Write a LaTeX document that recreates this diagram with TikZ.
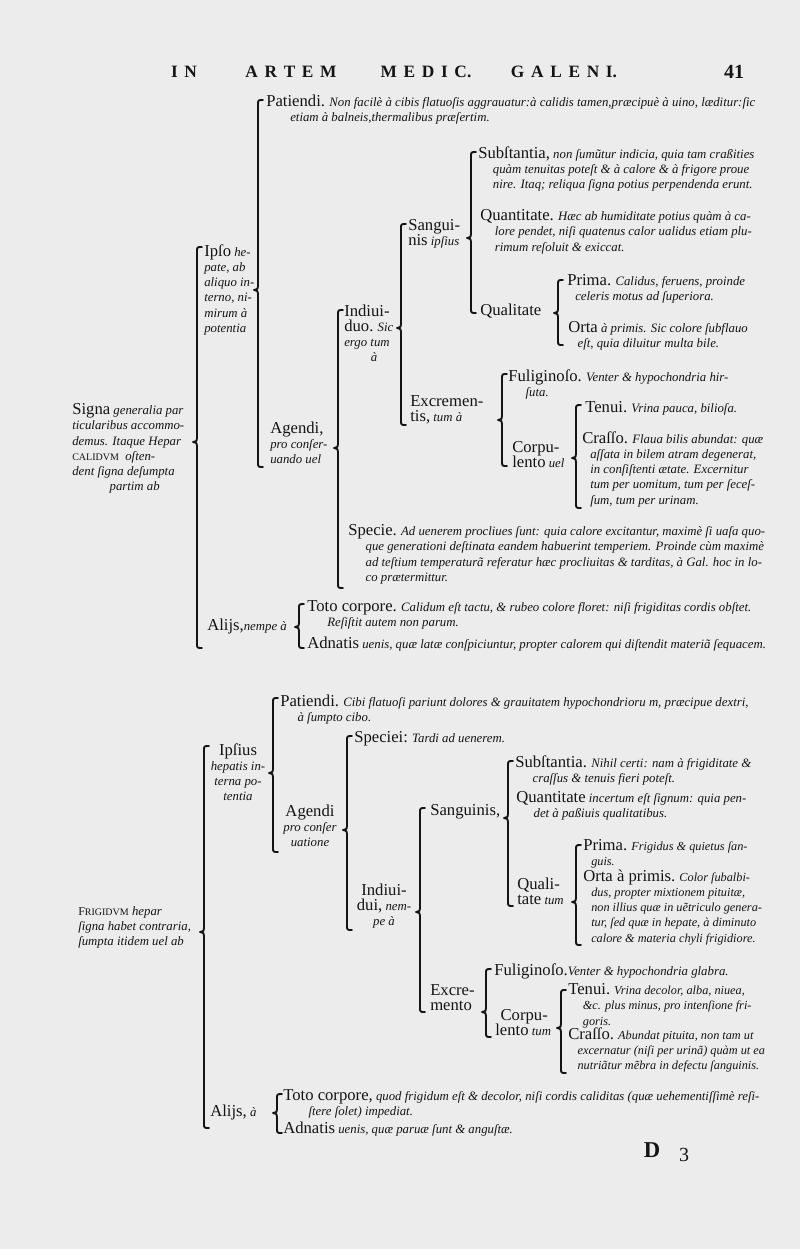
\documentclass[tikz,border=0pt]{standalone}
\usepackage{fontspec}
\setmainfont{Liberation Serif}
\definecolor{mainBlack}{gray}{0.08}
\definecolor{paperGray}{gray}{0.925}
\newcommand{\hw}[1]{{\fontsize{12.5}{13}\selectfont\upshape #1}}
\newcommand{\scp}[1]{{\fontsize{7.5}{9}\selectfont\upshape #1}}
\newcommand{\lsp}{\kern5pt}
% 括弧: x, 上端, 先端, 下端
\newcommand{\brk}[4]{%
  \draw[brk] (#1+5,#2) .. controls (#1,#2) .. (#1,#2+5)
    -- (#1,#3-4) .. controls (#1,#3-1) .. (#1-4,#3)
    .. controls (#1,#3+1) .. (#1,#3+4)
    -- (#1,#4-5) .. controls (#1,#4) .. (#1+5,#4);}

\begin{document}
\begin{tikzpicture}[x=0.75pt, y=-0.75pt,
    txt/.style={anchor=north west, inner sep=0pt, yshift=6.5pt, align=left,
      text=mainBlack, font=\fontsize{9.6}{11.4}\selectfont\itshape},
    narrow/.style={txt, font=\fontsize{9.2}{11.4}\selectfont\itshape},
    mid/.style={txt, anchor=north, align=center},
    head/.style={inner sep=0pt, text=mainBlack, font=\fontsize{13}{13}\selectfont\bfseries},
    brk/.style={draw=mainBlack, line width=1.4pt, line cap=round, line join=round}]
  \fill[paperGray] (0,0) rectangle (800,1249);

  % 見出し
  \node[head] (hIn) at (184,72) {I\lsp N};
  \node[head] (hArtem) at (291,72) {A\lsp R\lsp T\lsp E\lsp M};
  \node[head] (hMedic) at (426,72) {M\lsp E\lsp D\lsp I\lsp C.};
  \node[head] (hGaleni) at (564,72) {G\lsp A\lsp L\lsp E\lsp N\lsp I.};
  \node[head, font=\fontsize{15}{15}\selectfont\bfseries] (hPage) at (734,72) {41};

  % 上の表 (CALIDVM)
  \node[txt] (calRoot) at (72,412) {\hw{Signa} generalia par\\ticularibus accommo-\\demus. Itaque Hepar\\\scp{CALIDVM} \ oſten-\\dent ſigna deſumpta\\\hspace*{28pt}partim ab};
  \node[txt] (calIpso) at (204,253) {\hw{Ipſo} he-\\pate, ab\\aliquo in-\\terno, ni-\\mirum à\\potentia};
  \node[txt] (calPat) at (266,103) {\hw{Patiendi.} Non facilè à cibis flatuoſis aggrauatur:à calidis tamen,præcipuè à uino, læditur:ſic\\\hspace*{18pt}etiam à balneis,thermalibus præſertim.};
  \node[txt] (calAgendi) at (270,430) {\hw{Agendi,}\\pro conſer-\\uando uel};
  \node[txt] (calIndiu) at (344,313) {\hw{Indiui-}\\\hw{duo.} Sic\\ergo tum\\\hspace*{20pt}à};
  \node[txt] (calSang) at (408,228) {\hw{Sangui-}\\\hw{nis} ipſius};
  \node[txt] (calSubst) at (478,155) {\hw{Subſtantia,} non ſumũtur indicia, quia tam craßities\\\hspace*{11pt}quàm tenuitas poteſt \& à calore \& à frigore proue\\\hspace*{11pt}nire. Itaq; reliqua ſigna potius perpendenda erunt.};
  \node[txt] (calQuant) at (480,218) {\hw{Quantitate.} Hæc ab humiditate potius quàm à ca-\\\hspace*{11pt}lore pendet, niſi quatenus calor ualidus etiam plu-\\\hspace*{11pt}rimum reſoluit \& exiccat.};
  \node[txt] (calQual) at (480,312) {\hw{Qualitate}};
  \node[txt] (calPrima) at (567,283) {\hw{Prima.} Calidus, feruens, proinde\\\hspace*{6pt}celeris motus ad ſuperiora.};
  \node[txt] (calOrta) at (568,330) {\hw{Orta} à primis. Sic colore ſubflauo\\\hspace*{7pt}eſt, quia diluitur multa bile.};
  \node[txt] (calExcr) at (410,404) {\hw{Excremen-}\\\hw{tis,} tum à};
  \node[txt] (calFulig) at (508,378) {\hw{Fuliginoſo.} Venter \& hypochondria hir-\\\hspace*{13pt}ſuta.};
  \node[txt] (calCorp) at (512,450) {\hw{Corpu-}\\\hw{lento} uel};
  \node[txt] (calTenui) at (585,410) {\hw{Tenui.} Vrina pauca, bilioſa.};
  \node[txt] (calCrasso) at (582,440) {\hw{Craſſo.} Flaua bilis abundat: quæ\\\hspace*{6pt}aſſata in bilem atram degenerat,\\\hspace*{6pt}in conſiſtenti ætate. Excernitur\\\hspace*{6pt}tum per uomitum, tum per ſeceſ-\\\hspace*{6pt}ſum, tum per urinam.};
  \node[txt] (calSpecie) at (348,533) {\hw{Specie.} Ad uenerem procliues ſunt: quia calore excitantur, maximè ſi uaſa quo-\\\hspace*{13pt}que generationi deſtinata eandem habuerint temperiem. Proinde cùm maximè\\\hspace*{13pt}ad teſtium temperaturã referatur hæc procliuitas \& tarditas, à Gal. hoc in lo-\\\hspace*{13pt}co prætermittur.};
  \node[txt] (calAlijs) at (207,627) {\hw{Alijs,}nempe à};
  \node[txt] (calToto) at (307,609) {\hw{Toto corpore.} Calidum eſt tactu, \& rubeo colore floret: niſi frigiditas cordis obſtet.\\\hspace*{15pt}Reſiſtit autem non parum.};
  \node[txt] (calAdn) at (307,645) {\hw{Adnatis} uenis, quæ latæ conſpiciuntur, propter calorem qui diſtendit materiã ſequacem.};

  \brk{197}{247}{442}{648}
  \brk{258}{100}{290}{467}
  \brk{338}{310}{448}{588}
  \brk{401}{224}{328}{425}
  \brk{471}{152}{238}{313}
  \brk{558}{280}{313}{345}
  \brk{502}{374}{420}{466}
  \brk{576}{405}{458}{508}
  \brk{299}{604}{627}{648}

  % 下の表 (FRIGIDVM)
  \node[txt] (friRoot) at (78,915) {{\fontsize{9}{9}\selectfont\upshape F}\scp{RIGIDVM} hepar\\ſigna habet contraria,\\ſumpta itidem uel ab};
  \node[mid] (friIpsius) at (238,752) {\hw{Ipſius}\\hepatis in-\\terna po-\\tentia};
  \node[txt] (friPat) at (280,703) {\hw{Patiendi.} Cibi flatuoſi pariunt dolores \& grauitatem hypochondrioru m, præcipue dextri,\\\hspace*{13pt}à ſumpto cibo.};
  \node[mid] (friAgendi) at (310,813) {\hw{Agendi}\\pro conſer\\uatione};
  \node[txt] (friSpec) at (354,740) {\hw{Speciei:} Tardi ad uenerem.};
  \node[mid] (friIndiu) at (384,892) {\hw{Indiui-}\\\hw{dui,} nem-\\pe à};
  \node[txt] (friSang) at (430,813) {\hw{Sanguinis,}};
  \node[txt] (friSubst) at (515,764) {\hw{Subſtantia.} Nihil certi: nam à frigiditate \&\\\hspace*{13pt}craſſus \& tenuis fieri poteſt.};
  \node[txt] (friQuant) at (516,800) {\hw{Quantitate} incertum eſt ſignum: quia pen-\\\hspace*{13pt}det à paßiuis qualitatibus.};
  \node[txt] (friQual) at (517,886) {\hw{Quali-}\\\hw{tate} tum};
  \node[narrow] (friPrima) at (583,848) {\hw{Prima.} Frigidus \& quietus ſan-\\\hspace*{6pt}guis.};
  \node[narrow] (friOrta) at (583,878) {\hw{Orta à primis.} Color ſubalbi-\\\hspace*{6pt}dus, propter mixtionem pituitæ,\\\hspace*{6pt}non illius quæ in uẽtriculo genera-\\\hspace*{6pt}tur, ſed quæ in hepate, à diminuto\\\hspace*{6pt}calore \& materia chyli frigidiore.};
  \node[txt] (friExcr) at (430,993) {\hw{Excre-}\\\hw{mento}};
  \node[txt] (friFulig) at (494,972) {\hw{Fuliginoſo.}Venter \& hypochondria glabra.};
  \node[txt] (friCorp) at (495,1018) {\hspace*{4pt}\hw{Corpu-}\\\hw{lento} tum};
  \node[narrow] (friTenui) at (568,992) {\hw{Tenui.} Vrina decolor, alba, niuea,\\\hspace*{11pt}\&c. plus minus, pro intenſione fri-\\\hspace*{11pt}goris.};
  \node[narrow] (friCrasso) at (568,1036) {\hw{Craſſo.} Abundat pituita, non tam ut\\\hspace*{7pt}excernatur (niſi per urinã) quàm ut ea\\\hspace*{7pt}nutriãtur mẽbra in defectu ſanguinis.};
  \node[txt] (friAlijs) at (210,1113) {\hw{Alijs,} à};
  \node[txt] (friToto) at (283,1098) {\hw{Toto corpore,} quod frigidum eſt \& decolor, niſi cordis caliditas (quæ uehementiſſimè reſi-\\\hspace*{19pt}ſtere ſolet) impediat.};
  \node[txt] (friAdn) at (283,1130) {\hw{Adnatis} uenis, quæ paruæ ſunt \& anguſtæ.};

  \brk{204}{746}{932}{1128}
  \brk{273}{698}{773}{852}
  \brk{347}{736}{830}{930}
  \brk{420}{808}{912}{1012}
  \brk{508}{761}{818}{906}
  \brk{576}{845}{902}{945}
  \brk{486}{969}{1012}{1037}
  \brk{561}{990}{1028}{1073}
  \brk{277}{1094}{1113}{1133}

  % 折記号
  \node[head, font=\fontsize{17}{17}\selectfont\bfseries] (sigD) at (652,1150) {D};
  \node[head, font=\fontsize{15}{15}\selectfont] (sigNum) at (684,1155) {3};
\end{tikzpicture}
\end{document}
